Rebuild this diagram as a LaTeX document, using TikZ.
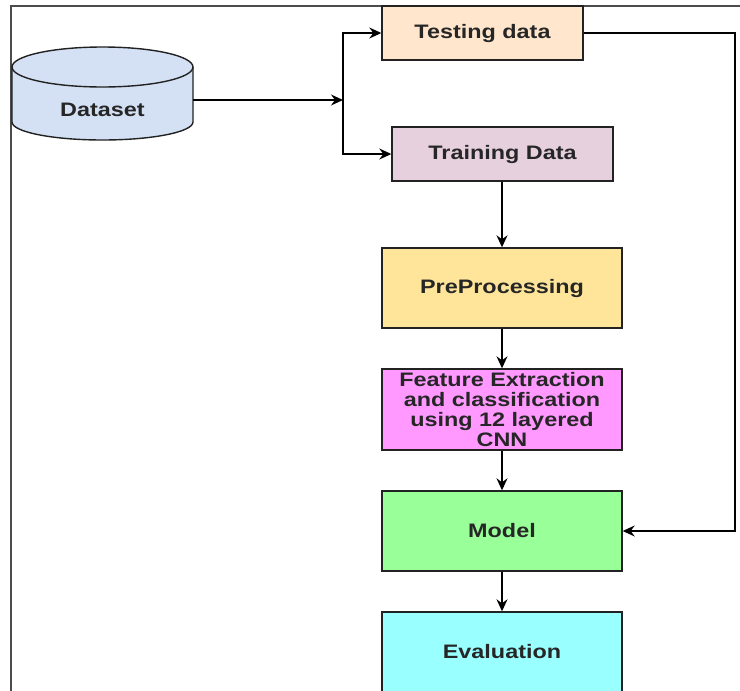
\documentclass[tikz,border=0pt]{standalone}
\usepackage{fontspec}
\newfontfamily\lblfont[FakeStretch=1.2]{Liberation Sans}
\usetikzlibrary{arrows.meta}
\definecolor{dsfill}{HTML}{D4E1F5}
\definecolor{testfill}{HTML}{FFE6CC}
\definecolor{trainfill}{HTML}{E6D0DE}
\definecolor{prefill}{HTML}{FFE599}
\definecolor{featfill}{HTML}{FF99FF}
\definecolor{modelfill}{HTML}{99FF99}
\definecolor{evalfill}{HTML}{99FFFF}
\definecolor{edge}{HTML}{222222}
\definecolor{ink}{HTML}{262626}
\tikzset{
  stagebox/.style={draw=edge, line width=1.4pt, minimum width=240pt, minimum height=80pt,
    inner sep=0pt, align=center, text=ink, font=\lblfont\bfseries\fontsize{19.5}{19.7}\selectfont},
  flow/.style={line width=1.3pt, draw=black, -{Stealth[length=12pt,width=11pt,inset=4pt]}},
}
\begin{document}
\begin{tikzpicture}[x=1pt, y=-1pt]
\useasboundingbox (0,0) rectangle (740,691);
\clip (0,0) rectangle (740,691);
\fill[white] (0,0) rectangle (740,691);

% outer frame (left and top edges)
\draw[line width=1.5pt, draw=black!70] (11,700) -- (11,6) -- (745,6);

% dataset cylinder (y axis points down, so arcs run through +90 for the lower rim)
\fill[dsfill] (12,67) -- (12,122) arc[start angle=180, end angle=0, x radius=90.5, y radius=18]
  -- (193,67) arc[start angle=0, end angle=-180, x radius=90.5, y radius=20] -- cycle;
\draw[line width=1.4pt, draw=edge] (12,67) -- (12,122) arc[start angle=180, end angle=0, x radius=90.5, y radius=18]
  -- (193,67);
\draw[line width=1.4pt, draw=edge] (102.5,67) ellipse[x radius=90.5, y radius=20];
\node[minimum width=181pt, minimum height=93pt, inner sep=0pt] (dataset) at (102.5,93.5) {};
\node[text=ink, font=\lblfont\bfseries\fontsize{19.5}{19.7}\selectfont] (dslabel) at (102.5,110) {Dataset};

% process boxes
\node[stagebox, fill=testfill, minimum width=201pt, minimum height=54pt] (test) at (482.5,33) {Testing data};
\node[stagebox, fill=trainfill, minimum width=221pt, minimum height=54pt] (train) at (502.5,154) {Training Data};
\node[stagebox, fill=prefill, minimum height=80pt] (pre) at (502,288) {PreProcessing};
\node[stagebox, fill=featfill, minimum height=81pt] (feat) at (502,409.5) {Feature Extraction\\and classification\\using 12 layered\\CNN};
\node[stagebox, fill=modelfill] (model) at (502,531) {Model};
\node[stagebox, fill=evalfill] (eval) at (502,652) {Evaluation};

% split point
\coordinate (split) at (343,100);

% connectors
\draw[flow] (dataset.east |- split) -- (split);
\draw[flow] (split) |- (test.west);
\draw[flow] (split) |- (train.west);
\draw[flow] (train.south -| pre.north) -- (pre.north);
\draw[flow] (pre) -- (feat);
\draw[flow] (feat) -- (model);
\draw[flow] (model) -- (eval);
\coordinate (bend) at (735,33);
\draw[flow] (test.east) -- (bend) |- (model.east);
\end{tikzpicture}
\end{document}
